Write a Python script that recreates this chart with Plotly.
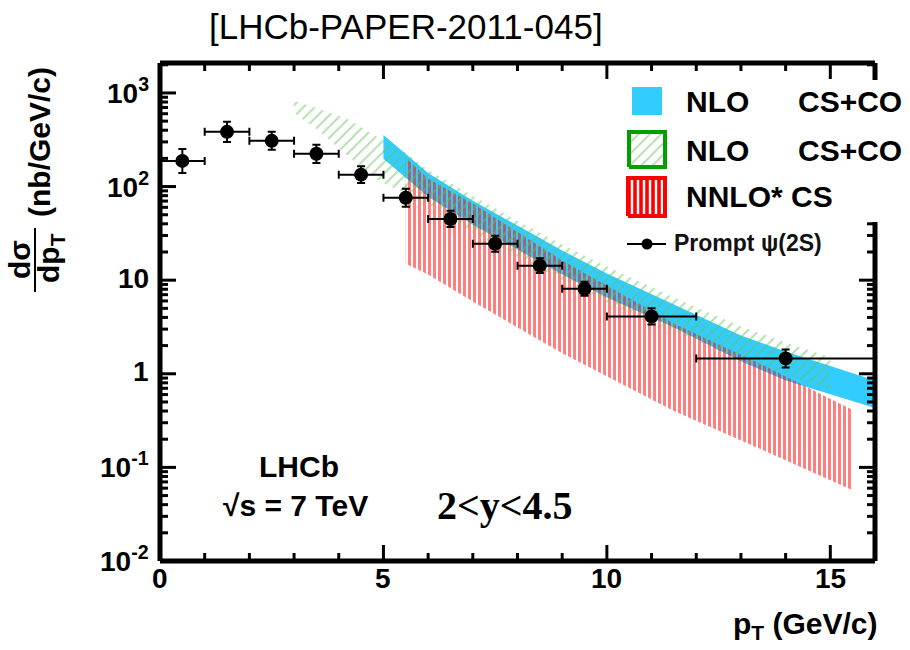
import math
import plotly.graph_objects as go

# ---------------- data ----------------
pt = [0.5, 1.5, 2.5, 3.5, 4.5, 5.5, 6.5, 7.5, 8.5, 9.5, 11.0, 14.0]
pt_err_lo = [0.5, 0.5, 0.5, 0.5, 0.5, 0.5, 0.5, 0.5, 0.5, 0.5, 1.0, 2.0]
pt_err_hi = [0.5, 0.5, 0.5, 0.5, 0.5, 0.5, 0.5, 0.5, 0.5, 0.5, 1.0, 2.0]
xsec = [188, 384, 308, 224, 134, 76, 45, 24.5, 14.3, 8.1, 4.1, 1.46]
xsec_err_up = [64, 107, 77, 56, 31, 19, 10, 5.4, 2.9, 1.5, 0.9, 0.36]
xsec_err_dn = [48, 85, 61, 45, 25, 15, 8, 4.4, 2.4, 1.3, 0.74, 0.29]

blue_pt = [5, 6, 7, 8, 9, 10, 11.5, 13, 14, 16]
blue_hi = [356, 140, 70.6, 38.2, 20.7, 11.8, 5.50, 2.57, 1.73, 0.85]
blue_lo = [198, 77.8, 39.2, 21.2, 11.5, 6.53, 3.13, 1.36, 0.85, 0.43]
blue_edge_pt = [16, 16]
blue_edge_y = [0.43, 0.1]

red_pt = [5.5, 6, 7, 9, 11.5, 13.5, 15.5]
red_hi = [203, 121, 66, 16.2, 3.44, 1.23, 0.41]
red_lo = [15.0, 11.5, 5.9, 1.66, 0.40, 0.152, 0.057]

green_pt = [3.0, 3.5, 4.2, 4.9, 5.5, 6, 7, 8, 9, 10, 11.5, 13, 14, 15]
green_hi = [822, 692, 528, 330, 230, 150, 79.7, 43.2, 24.0, 14.0, 6.52, 3.20, 2.16, 1.50]
green_lo = [612, 413, 213, 115, 84, 65.6, 32.2, 17.9, 9.9, 5.77, 2.90, 1.39, 0.96, 0.67]

y_tickvals = [0.01, 0.1, 1, 10, 100, 1000]
y_ticktext = ["10<sup>-2</sup>", "10<sup>-1</sup>", "1", "10", "10<sup>2</sup>", "10<sup>3</sup>"]
y_minor_mult = [2, 3, 4, 5, 6, 7, 8, 9]
x_major = [0, 5, 10, 15]
x_ticktext = ["0", "5", "10", "15"]
x_minor = [1, 2, 3, 4, 6, 7, 8, 9, 11, 12, 13, 14]

legend_labels = ["NLO", "NLO", "NNLO* CS"]
legend_labels2 = ["CS+CO", "CS+CO", ""]
data_label = "Prompt ψ(2S)"

# ---------------- geometry (pixels) ----------------
W, H = 910, 650
FL, FR, FT, FB = 160, 875, 63, 561          # frame of the chart
E = 8                                       # plot area reaches a little past the frame
L, R, T, B = FL - E, W - FR - E, FT - E, H - FB - E
PW, PH = W - L - R, H - T - B
X0, X1 = 0, 16                              # frame data limits
LY0, LY1 = -2, 3.32
XPP = (X1 - X0) / (FR - FL)
YPP = (LY1 - LY0) / (FB - FT)
XR = [X0 - E * XPP, X1 + E * XPP]
YR = [LY0 - E * YPP, LY1 + E * YPP]
YMIN, YMAX = 10 ** LY0, 10 ** LY1


def px(x):  # pixel -> paper
    return (x - L) / PW


def py(y):
    return (H - B - y) / PH


def dx(x):  # pixel -> data x
    return X0 + (x - FL) * XPP


def dy(y):  # pixel -> data y (log axis)
    return 10 ** (LY0 + (FB - y) * YPP)


def ypix(v):
    return FB - (math.log10(v) - LY0) / YPP


def xpix(v):
    return FL + (v - X0) / XPP


BLUE = "#33ccff"
RED = "#ff0000"
GREEN_H = "#66c25a"
GREEN_B = "#00a000"
FONT = "Liberation Sans"

fig = go.Figure()


def band(xs, hi, lo):
    return list(xs) + list(xs)[::-1], list(hi) + list(lo)[::-1]


bx, by = band(blue_pt, blue_hi, blue_lo)
fig.add_trace(go.Scatter(x=bx, y=by, fill="toself", fillcolor=BLUE,
                         line=dict(width=0), mode="lines", hoverinfo="skip",
                         showlegend=False))
fig.add_trace(go.Scatter(x=blue_edge_pt, y=blue_edge_y, mode="lines",
                         line=dict(color=BLUE, width=2), hoverinfo="skip",
                         showlegend=False))

rx, ry = band(red_pt, red_hi, red_lo)
fig.add_trace(go.Scatter(x=rx, y=ry, fill="toself", fillcolor="rgba(0,0,0,0)",
                         fillpattern=dict(shape="|", fgcolor=RED, bgcolor="rgba(0,0,0,0)",
                                          size=5, solidity=0.6, fillmode="overlay"),
                         line=dict(width=0), mode="lines", hoverinfo="skip",
                         showlegend=False))

gx, gy = band(green_pt, green_hi, green_lo)
fig.add_trace(go.Scatter(x=gx, y=gy, fill="toself", fillcolor="rgba(0,0,0,0)",
                         fillpattern=dict(shape="/", fgcolor=GREEN_H, bgcolor="rgba(0,0,0,0)",
                                          size=8, solidity=0.25, fillmode="overlay"),
                         line=dict(width=0), mode="lines", hoverinfo="skip",
                         showlegend=False))

fig.add_trace(go.Scatter(
    x=pt, y=xsec, mode="markers",
    marker=dict(symbol="circle", size=14, color="black"),
    error_x=dict(type="data", symmetric=False, array=pt_err_hi, arrayminus=pt_err_lo,
                 color="black", thickness=2, width=4),
    error_y=dict(type="data", symmetric=False, array=xsec_err_up, arrayminus=xsec_err_dn,
                 color="black", thickness=2, width=4),
    showlegend=False))


# ---------------- hand-made legend glyphs ----------------
def box(x0, x1, y0, y1):
    return [dx(x0), dx(x1), dx(x1), dx(x0), dx(x0)], [dy(y0), dy(y0), dy(y1), dy(y1), dy(y0)]


bxs, bys = box(632, 662, 115, 87)
fig.add_trace(go.Scatter(x=bxs, y=bys, fill="toself", fillcolor=BLUE,
                         line=dict(width=0), mode="lines",
                         hoverinfo="skip", showlegend=False))
gxs, gys = box(629, 665, 167, 132)
fig.add_trace(go.Scatter(x=gxs, y=gys, fill="toself", fillcolor="rgba(0,0,0,0)",
                         fillpattern=dict(shape="/", fgcolor=GREEN_H, bgcolor="rgba(0,0,0,0)",
                                          size=8, solidity=0.25, fillmode="overlay"),
                         line=dict(width=4, color=GREEN_B), mode="lines",
                         hoverinfo="skip", showlegend=False))
rxs, rys = box(628, 665, 216, 178)
fig.add_trace(go.Scatter(x=rxs, y=rys, fill="toself", fillcolor="rgba(0,0,0,0)",
                         fillpattern=dict(shape="|", fgcolor=RED, bgcolor="white",
                                          size=6, solidity=0.6, fillmode="replace"),
                         line=dict(width=4, color=RED), mode="lines",
                         hoverinfo="skip", showlegend=False))
fig.add_trace(go.Scatter(x=[dx(627), dx(666)], y=[dy(244), dy(244)],
                         mode="lines", line=dict(color="black", width=2),
                         hoverinfo="skip", showlegend=False))
fig.add_trace(go.Scatter(x=[dx(647)], y=[dy(244)],
                         mode="markers", marker=dict(color="black", size=11),
                         hoverinfo="skip", showlegend=False))

# ---------------- frame and ticks (shapes in data coordinates) ----------------
MAJ, MIN = 16, 8
LEG_GAP = (80, 222)
TK = dict(color="black", width=3)
FRM = dict(color="black", width=5)


def seg(x0, x1, y0, y1, line):
    return dict(type="line", xref="x", yref="y", x0=x0, x1=x1, y0=y0, y1=y1,
                line=line, layer="above")


shapes = []
for v in x_major + x_minor:
    ln = MAJ if v in x_major else MIN
    shapes.append(seg(v, v, YMIN, dy(FB - ln), TK))
    shapes.append(seg(v, v, YMAX, dy(FT + ln), TK))
y_minor_vals = [m * v for v in y_tickvals for m in y_minor_mult]
for v, ln in [(v, MAJ) for v in y_tickvals] + [(v, MIN) for v in y_minor_vals]:
    if not (YMIN <= v <= YMAX):
        continue
    shapes.append(seg(X0, dx(FL + ln), v, v, TK))
    if not (LEG_GAP[0] - 4 <= ypix(v) <= LEG_GAP[1]):
        shapes.append(seg(X1, dx(FR - ln), v, v, TK))
shapes += [
    seg(X0, X1, YMIN, YMIN, FRM),
    seg(X0, X1, YMAX, YMAX, FRM),
    seg(X0, X0, YMIN, YMAX, FRM),
    seg(X1, X1, YMIN, dy(LEG_GAP[1]), FRM),
    seg(X1, X1, dy(LEG_GAP[0]), YMAX, FRM),
    dict(type="line", xref="paper", yref="paper", x0=px(35), x1=px(35),
         y0=py(228), y1=py(292), line=dict(color="black", width=2)),
]

bold = dict(family=FONT, size=30, color="black", weight="bold")
tfont = dict(family=FONT, size=28, color="black", weight="bold")


def note(x, y, text, font, xanchor="center", angle=0):
    return dict(x=px(x), y=py(y), text=text, showarrow=False, xanchor=xanchor,
                yanchor="middle", xref="paper", yref="paper", font=font,
                textangle=angle)


ann = []
for v, t in zip(x_major, x_ticktext):
    ann.append(note(xpix(v), 578, t, tfont))
for v, t in zip(y_tickvals, y_ticktext):
    ann.append(note(151, ypix(v) - 2, t, tfont, "right"))
for i, (a, b) in enumerate(zip(legend_labels, legend_labels2)):
    yy = [101, 150, 196][i]
    ann.append(note(684, yy, a, bold, "left"))
    if b:
        ann.append(note(796, yy, b, bold, "left"))
ann.append(note(672, 243, data_label,
                dict(family=FONT, size=23, color="#111111", weight="bold"), "left"))

ann.append(note(299, 466, "LHCb", bold))
ann.append(note(295, 505, "√s = 7 TeV", bold))
ann.append(note(505, 505, "2&lt;y&lt;4.5",
                dict(family="Liberation Serif", size=40, color="black", weight="bold")))
ann.append(note(406, 27, "[LHCb-PAPER-2011-045]", dict(family=FONT, size=35, color="black")))
ann.append(note(880, 625, "p<sub>T</sub> (GeV/c)", bold, "right"))
ann.append(note(40, 142, "(nb/GeV/c)", bold, "center", -90))
ann.append(note(19, 260, "dσ", bold, "center", -90))
ann.append(note(50, 258, "dp<sub>T</sub>", bold, "center", -90))

fig.update_layout(
    width=W, height=H,
    margin=dict(l=L, r=R, t=T, b=B),
    paper_bgcolor="white", plot_bgcolor="white",
    showlegend=False,
    xaxis=dict(range=XR, showline=False, ticks="", showgrid=False, zeroline=False,
               showticklabels=False),
    yaxis=dict(type="log", range=YR, showline=False, ticks="", showgrid=False,
               zeroline=False, showticklabels=False),
    annotations=ann,
    shapes=shapes,
)

fig.write_html("out.html")
